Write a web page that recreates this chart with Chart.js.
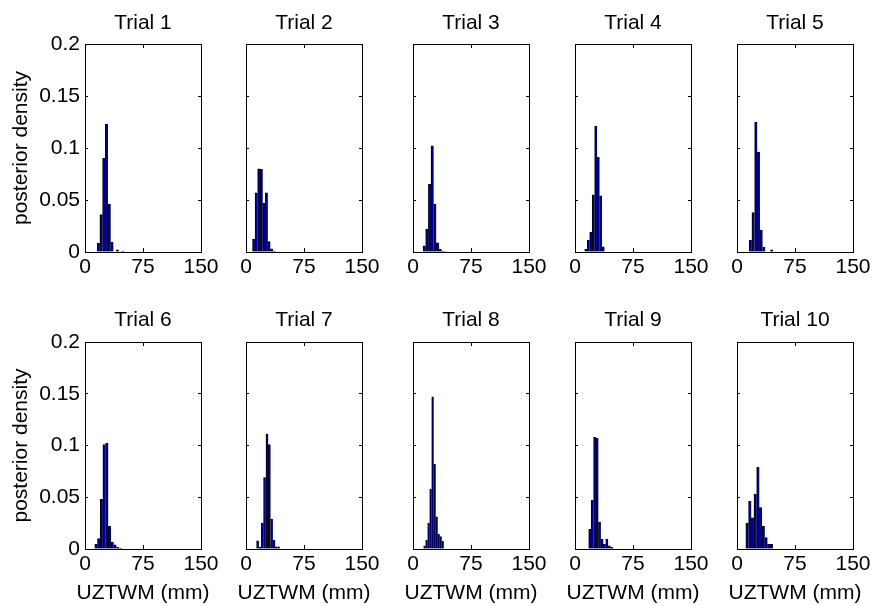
<!DOCTYPE html>
<html>
<head>
<meta charset="utf-8">
<script src="https://cdn.jsdelivr.net/npm/chart.js@4/dist/chart.umd.min.js"></script>
<style>
html,body{margin:0;padding:0;background:#fff;width:873px;height:606px;overflow:hidden;position:relative}
canvas{position:absolute}
</style>
</head>
<body>
<script>
// ---------- data ----------
const trialTitles = ['Trial 1','Trial 2','Trial 3','Trial 4','Trial 5','Trial 6','Trial 7','Trial 8','Trial 9','Trial 10'];
const xTicks = [0, 75, 150];
const xTickLabels = ['0', '75', '150'];
const yTicks = [0, 0.05, 0.1, 0.15, 0.2];
const yTickLabels = ['0', '0.05', '0.1', '0.15', '0.2'];
const xLabel = 'UZTWM (mm)';
const yLabel = 'posterior density';

const bins1 = [17.5, 21.0, 24.5, 28.0, 31.5, 35.0, 38.5, 42.0, 45.5, 49.0];
const dens1 = [0.0083, 0.036, 0.090, 0.123, 0.046, 0.0096, 0, 0.0022, 0, 0.001];
const bins2 = [10.1, 13.4, 16.7, 20.0, 23.3, 26.6, 29.9, 33.2, 36.5];
const dens2 = [0.0125, 0.057, 0.080, 0.0795, 0.047, 0.057, 0.010, 0.003, 0.001];
const bins3 = [14.7, 18.1, 21.6, 25.0, 28.4, 31.9, 35.3, 38.7, 42.2];
const dens3 = [0.006, 0.022, 0.065, 0.102, 0.046, 0.0087, 0.0026, 0.001, 0.0005];
const bins4 = [14.2, 17.4, 20.6, 23.8, 27.0, 30.2, 33.4, 36.6];
const dens4 = [0.0026, 0.0115, 0.019, 0.055, 0.121, 0.091, 0.054, 0.005];
const bins5 = [17.5, 21.0, 24.5, 28.0, 31.4, 34.8, 38.2, 41.6, 45.0];
const dens5 = [0.0115, 0.038, 0.125, 0.096, 0.021, 0.0045, 0, 0, 0.002];
const bins6 = [14.4, 17.9, 21.4, 24.9, 28.4, 31.9, 35.4, 38.9, 42.4, 45.9];
const dens6 = [0.0045, 0.010, 0.048, 0.101, 0.102, 0.022, 0.0068, 0.004, 0.0016, 0.0006];
const bins7 = [15.2, 18.2, 21.2, 24.2, 27.3, 30.3, 33.3, 36.3, 39.3, 42.3];
const dens7 = [0.008, 0.0016, 0.025, 0.069, 0.111, 0.101, 0.029, 0.0087, 0.002, 0.002];
const bins8 = [15.1, 17.7, 20.3, 22.9, 25.5, 28.1, 30.7, 33.3, 35.9, 38.5];
const dens8 = [0.003, 0.0087, 0.025, 0.058, 0.147, 0.082, 0.031, 0.0145, 0.012, 0.0074];
const bins9 = [19.3, 22.45, 25.6, 28.75, 31.9, 35.05, 38.2, 41.35, 44.5, 47.65];
const dens9 = [0.019, 0.047, 0.108, 0.107, 0.026, 0.0097, 0.0045, 0.0097, 0.003, 0.0016];
const bins10 = [13.2, 16.7, 20.2, 23.7, 27.2, 30.7, 34.2, 37.7, 41.2, 44.7];
const dens10 = [0.025, 0.046, 0.030, 0.053, 0.079, 0.040, 0.022, 0.011, 0.0045, 0.0045];

const allBins = [bins1, bins2, bins3, bins4, bins5, bins6, bins7, bins8, bins9, bins10];
const allDens = [dens1, dens2, dens3, dens4, dens5, dens6, dens7, dens8, dens9, dens10];

// ---------- layout ----------
const colLeft = [85, 246, 413, 575, 737];
const rowTop = [44, 342];
const plotW = 116;
const plotH = [208, 207];
const mSide = 85, mTop = 44, mBottom = 57;
const xAxisH = [57, 31];
const titlePad = [11, 10];

const FONT = 'Liberation Sans, Arial, Helvetica, sans-serif';
Chart.defaults.font.family = FONT;
Chart.defaults.font.size = 21;
Chart.defaults.color = '#000';

function setTicks(vals) {
  return function (scale) { scale.ticks = vals.map(v => ({ value: v })); };
}

for (let k = 0; k < 10; k++) {
  const row = Math.floor(k / 5), col = k % 5;
  const cv = document.createElement('canvas');
  const w = mSide + plotW + mSide, h = mTop + plotH[row] + mBottom;
  cv.width = w; cv.height = h;
  cv.style.width = w + 'px'; cv.style.height = h + 'px';
  cv.style.left = (colLeft[col] - mSide) + 'px';
  cv.style.top = (rowTop[row] - mTop) + 'px';
  document.body.appendChild(cv);

  const gridX = { display: true, offset: false, drawOnChartArea: false, drawTicks: true, tickLength: -4, color: '#000', lineWidth: 1 };
  const gridY = { display: true, offset: false, drawOnChartArea: false, drawTicks: true, tickLength: -3, color: '#000', lineWidth: 1 };
  const border = { display: true, color: '#000', width: 1 };

  new Chart(cv, {
    type: 'bar',
    data: {
      datasets: [{
        data: allBins[k].map((c, i) => ({ x: c, y: allDens[k][i] })),
        backgroundColor: '#00008f',
        borderColor: '#000',
        borderWidth: { top: 1, left: 1, right: 0, bottom: 0 },
        borderSkipped: 'start',
        barPercentage: 1,
        categoryPercentage: 1,
        xAxisID: 'x',
        yAxisID: 'y'
      }]
    },
    options: {
      responsive: false,
      animation: false,
      events: [],
      layout: { padding: 0 },
      plugins: {
        legend: { display: false },
        tooltip: { enabled: false },
        title: {
          display: row === 1, position: 'bottom', fullSize: true, text: xLabel, color: '#000',
          font: { size: 21, weight: 'normal' }, padding: { top: 0.4, bottom: 0.4 }
        }
      },
      scales: {
        x: {
          type: 'linear', position: 'bottom', min: 0, max: 150, offset: false,
          afterBuildTicks: setTicks(xTicks),
          ticks: { display: true, autoSkip: false, maxRotation: 0, minRotation: 0, padding: 7,
                   callback: (v, i) => xTickLabels[i], color: '#000' },
          grid: gridX, border: border,
          afterFit: s => { s.height = xAxisH[row]; }
        },
        x2: {
          type: 'linear', position: 'top', min: 0, max: 150, offset: false,
          afterBuildTicks: setTicks(xTicks),
          ticks: { display: false },
          grid: gridX, border: border,
          title: { display: true, text: trialTitles[k], color: '#000', padding: { top: titlePad[row], bottom: 0 } },
          afterFit: s => { s.height = mTop; }
        },
        y: {
          type: 'linear', position: 'left', min: 0, max: 0.2,
          afterBuildTicks: setTicks(yTicks),
          ticks: { display: col === 0, padding: 8, callback: (v, i) => yTickLabels[i], color: '#000' },
          grid: gridY, border: border,
          title: { display: col === 0, text: yLabel, color: '#000', padding: { top: 9, bottom: 0 } },
          afterFit: s => { s.width = mSide; }
        },
        y2: {
          type: 'linear', position: 'right', min: 0, max: 0.2,
          afterBuildTicks: setTicks(yTicks),
          ticks: { display: false },
          grid: gridY, border: border,
          afterFit: s => { s.width = mSide; }
        }
      }
    }
  });
}
</script>
</body>
</html>
